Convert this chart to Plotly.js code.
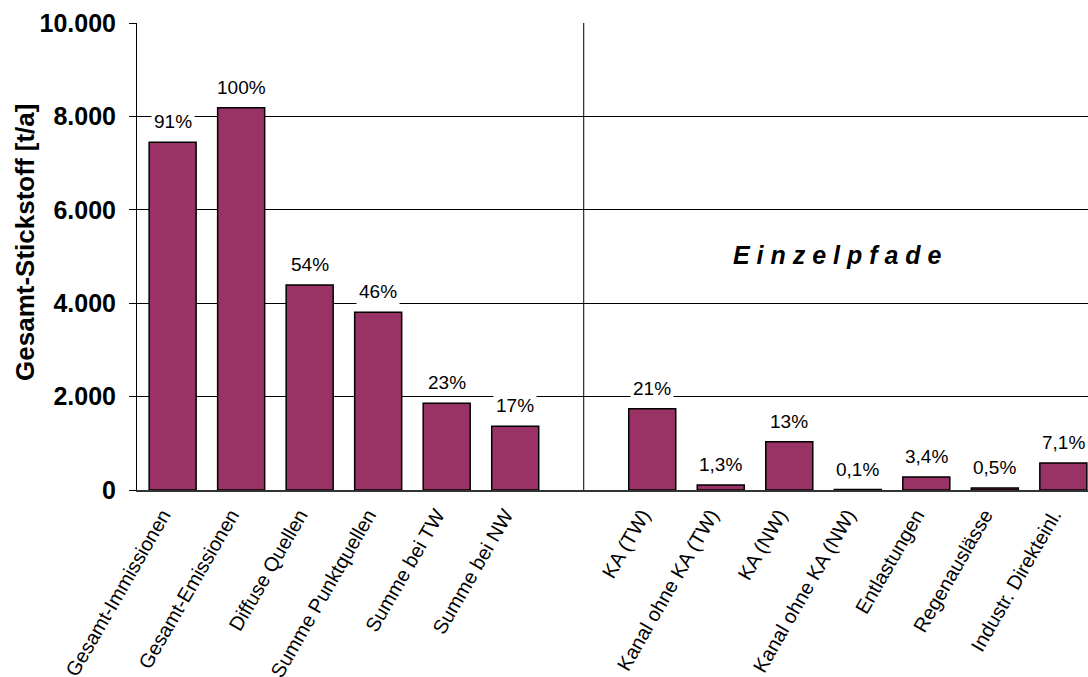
<!DOCTYPE html>
<html>
<head>
<meta charset="utf-8">
<script src="https://cdn.plot.ly/plotly-3.0.1.min.js"></script>
<style>
  html, body { margin: 0; padding: 0; background: #fff; overflow: hidden; }
  #chart { width: 1088px; height: 677px; }
</style>
</head>
<body>
<div id="chart"></div>
<script>
// ---- data ----
const totalCategories = ["Gesamt-Immissionen", "Gesamt-Emissionen", "Diffuse Quellen", "Summe Punktquellen", "Summe bei TW", "Summe bei NW"];
const totalValues = [7445, 8186, 4390, 3805, 1856, 1364];
const totalLabels = ["91%", "100%", "54%", "46%", "23%", "17%"];

const pathCategories = ["KA (TW)", "Kanal ohne KA (TW)", "KA (NW)", "Kanal ohne KA (NW)", "Entlastungen", "Regenauslässe", "Industr. Direkteinl."];
const pathValues = [1740, 107, 1034, 10, 280, 41, 578];
const pathLabels = ["21%", "1,3%", "13%", "0,1%", "3,4%", "0,5%", "7,1%"];

const gapCategory = " ";
const yTickValues = [0, 2000, 4000, 6000, 8000, 10000];
const yTitle = "Gesamt-Stickstoff [t/a]";
const sectionTitle = "E i n z e l p f a d e";

// ---- build ----
const categories = totalCategories.concat([gapCategory], pathCategories);
const barX = totalCategories.concat(pathCategories);
const barY = totalValues.concat(pathValues);
const barLabels = totalLabels.concat(pathLabels);

const FONT = "Arial, 'Liberation Sans', sans-serif";

const trace = {
  type: "bar",
  x: barX,
  y: barY,
  marker: { color: "#993366", line: { color: "#000000", width: 1.5 } },
  hoverinfo: "x+y",
  showlegend: false
};

const annotations = barX.map((c, i) => ({
  x: c, y: barY[i], xref: "x", yref: "y",
  text: barLabels[i], showarrow: false,
  yanchor: "bottom", yshift: 7,
  bgcolor: "#ffffff", borderpad: 2,
  font: { family: FONT, size: 19, color: "#000" }
}));
annotations.push({
  x: 9.7, y: 5030, xref: "x", yref: "y",
  text: "<b><i>" + sectionTitle + "</i></b>", showarrow: false,
  font: { family: FONT, size: 25, color: "#000" }
});
annotations.push({
  x: 0, xref: "paper", xshift: -112, xanchor: "center",
  y: 0.529, yref: "paper", yanchor: "middle",
  text: "<b>" + yTitle + "</b>", textangle: -90, showarrow: false,
  font: { family: FONT, size: 26, color: "#000" }
});

const layout = {
  width: 1088, height: 677,
  margin: { l: 137, r: 0, t: 23, b: 187 },
  paper_bgcolor: "#fff", plot_bgcolor: "#fff",
  separators: ",.",
  font: { family: FONT, color: "#000" },
  bargap: 0.314,
  xaxis: {
    type: "category",
    categoryorder: "array",
    categoryarray: categories,
    range: [-0.52, 13.36],
    showgrid: false,
    zeroline: false,
    showline: true, linecolor: "#333", linewidth: 1.5,
    ticks: "",
    tickangle: -60,
    ticklabelstandoff: 4,
    ticklabelshift: -10,
    tickfont: { family: FONT, size: 20, color: "#000" },
    fixedrange: true
  },
  yaxis: {
    range: [0, 10000],
    tickvals: yTickValues,
    tickformat: ",d",
    showgrid: true, gridcolor: "#000", gridwidth: 1,
    zeroline: false,
    showline: true, linecolor: "#000", linewidth: 1,
    ticks: "outside", ticklen: 7, tickcolor: "#000", tickwidth: 1,
    ticklabelstandoff: 8,
    tickfont: { family: FONT, size: 25, color: "#000", weight: "bold" },
    fixedrange: true
  },
  shapes: [{
    type: "line", xref: "x", yref: "y",
    x0: 6, x1: 6, y0: 0, y1: 10000,
    line: { color: "#000", width: 1 }
  }],
  annotations: annotations
};

Plotly.newPlot("chart", [trace], layout, { displayModeBar: false, staticPlot: true });
</script>
</body>
</html>
